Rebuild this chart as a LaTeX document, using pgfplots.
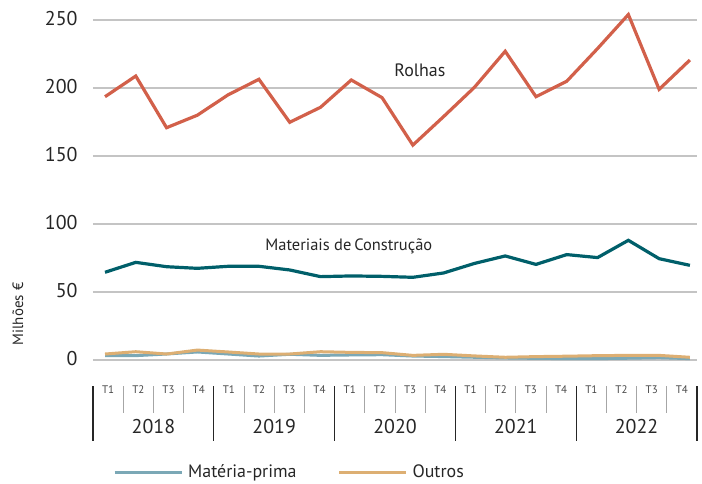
\documentclass[border=0pt]{standalone}
\usepackage{pgfplots}
\pgfplotsset{compat=1.18}
\usepackage{fontspec}
\setmainfont{PT Sans}
\definecolor{rolhas}{HTML}{D2604A}
\definecolor{matcons}{HTML}{005F6A}
\definecolor{matprima}{HTML}{7BA8B6}
\definecolor{outros}{HTML}{DDAF73}
\definecolor{gridgray}{HTML}{C4C4C4}
\definecolor{txt}{HTML}{262626}
\definecolor{divgray}{HTML}{A6A6A6}
\begin{document}
\begin{tikzpicture}
\useasboundingbox (-93bp,-124bp) rectangle (609bp,360bp);
\begin{axis}[
  at={(0,0)}, anchor=south west,
  scale only axis, width=604bp, height=340bp,
  xmin=-0.39, xmax=19.23, ymin=0, ymax=250,
  clip=false,
  axis line style={draw=none},
  xtick=\empty,
  ytick={0,50,100,150,200,250},
  ymajorgrids, grid style={line width=1.5bp, color=gridgray},
  major tick length=0pt,
  /pgf/number format/assume math mode=true,
  yticklabel style={font=\fontsize{20}{24}\selectfont, text=txt, xshift=-12bp, yshift=1.5bp},
  legend style={at={(axis description cs:0.0331,-0.330)}, anchor=west, draw=none, fill=none,
    inner sep=0pt, font=\fontsize{18}{21}\selectfont, text=txt,
    /tikz/every even column/.append style={column sep=39bp}},
  legend columns=2,
  legend cell align=left,
  legend image code/.code={\draw[#1] (0bp,0bp) -- (67bp,0bp); \path (70bp,0bp);},
]
\addplot[color=rolhas, line width=3.2bp, forget plot] coordinates {
(0,193.6) (1,208.8) (2,170.8) (3,180) (4,195) (5,206.4) (6,174.8) (7,185.8)
(8,205.9) (9,192.9) (10,158) (11,179) (12,200.5) (13,227) (14,193.6) (15,205)
(16,229) (17,254) (18,199) (19,220.6)};
\addplot[color=matcons, line width=3.2bp, forget plot] coordinates {
(0,64.5) (1,71.8) (2,68.6) (3,67.4) (4,68.9) (5,68.9) (6,66.2) (7,61.3)
(8,61.8) (9,61.5) (10,60.8) (11,64) (12,71) (13,76.5) (14,70.3) (15,77.5)
(16,75.3) (17,88) (18,74.5) (19,69.6)};
\addplot[color=matprima, line width=3bp] coordinates {
(0,3.2) (1,3.2) (2,4.4) (3,5.9) (4,4.4) (5,2.9) (6,4.2) (7,3.4)
(8,3.7) (9,3.9) (10,2.9) (11,2.5) (12,2.0) (13,1.5) (14,1.2) (15,1.0)
(16,1.0) (17,1.3) (18,1.7) (19,1.0)};
\addlegendentry{Matéria-prima}
\addplot[color=outros, line width=3bp] coordinates {
(0,4.4) (1,6.1) (2,4.4) (3,7.3) (4,5.9) (5,4.4) (6,4.4) (7,6.1)
(8,5.6) (9,5.4) (10,3.4) (11,4.2) (12,3.0) (13,2.0) (14,2.5) (15,2.8)
(16,3.2) (17,3.4) (18,3.4) (19,2.0)};
\addlegendentry{Outros}
\node[font=\fontsize{18}{21}\selectfont, text=txt] at (axis cs:10.23,213) {Rolhas};
\node[font=\fontsize{16.5}{20}\selectfont, text=txt] at (axis cs:7.92,83.8) {Materiais de\hspace{-1.5bp} Construção};
\end{axis}
% y label
\node[rotate=90, font=\fontsize{15}{18}\selectfont, text=txt] at (-75bp,46bp) {Milhões €};
% category axis
\foreach \k in {0,...,19} {
  \pgfmathtruncatemacro{\q}{mod(\k,4)+1}
  \node[font=\fontsize{11}{13}\selectfont, text=txt!85] at ({(\k+0.5)*30.2bp},-30bp) {T\q};
}
\foreach \k in {1,2,3,5,6,7,9,10,11,13,14,15,17,18,19} {
  \draw[divgray, line width=1bp] ({\k*30.2bp},-26bp) -- ({\k*30.2bp},-53bp);
}
\foreach \k in {0,4,8,12,16,20} {
  \draw[txt, line width=1.2bp] ({\k*30.2bp},-26bp) -- ({\k*30.2bp},-81bp);
}
\foreach \y/\lab in {0/2018,1/2019,2/2020,3/2021,4/2022} {
  \node[font=\fontsize{20}{24}\selectfont, text=txt] at ({(4*\y+2)*30.2bp},-67bp) {\lab};
}
\end{tikzpicture}
\end{document}
